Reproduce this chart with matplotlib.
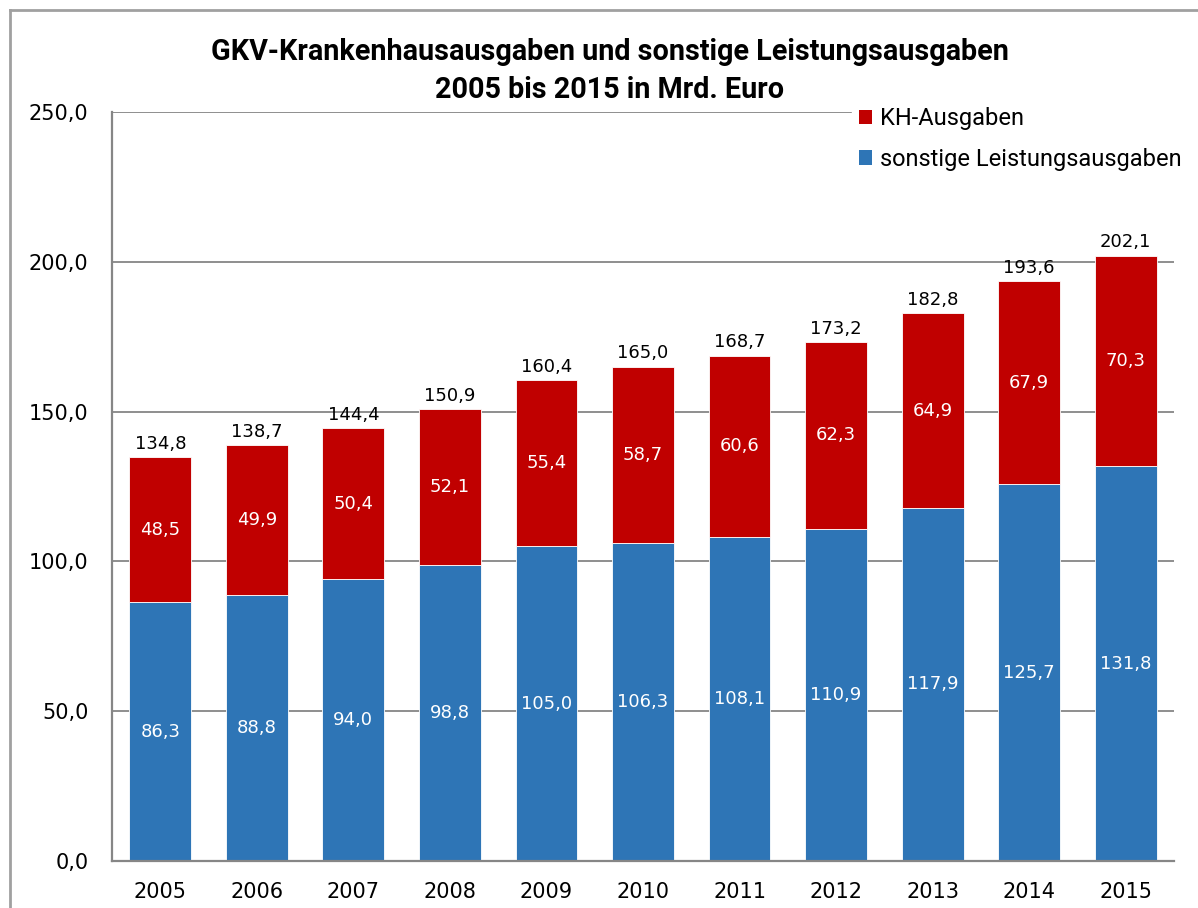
import matplotlib
matplotlib.use("Agg")
import matplotlib.pyplot as plt
from matplotlib.lines import Line2D
from matplotlib.patches import Patch
import numpy as np

years = ["2005", "2006", "2007", "2008", "2009", "2010", "2011", "2012", "2013", "2014", "2015"]
sonstige = [86.3, 88.8, 94.0, 98.8, 105.0, 106.3, 108.1, 110.9, 117.9, 125.7, 131.8]
kh = [48.5, 49.9, 50.4, 52.1, 55.4, 58.7, 60.6, 62.3, 64.9, 67.9, 70.3]
yticks = [0, 50, 100, 150, 200, 250]

title = "GKV-Krankenhausausgaben und sonstige Leistungsausgaben\n2005 bis 2015 in Mrd. Euro"
label_kh = "KH-Ausgaben"
label_so = "sonstige Leistungsausgaben"

BLUE = "#2E75B6"
RED = "#C00000"
GREY = "#868686"

def fmt(v):
    return f"{v:.1f}".replace(".", ",")

fig = plt.figure(figsize=(11.98, 9.08), dpi=100)
W, H = 1198, 908
ax = fig.add_axes([112 / W, 1 - 861 / H, (1174 - 112) / W, (861 - 112) / H])

x = np.arange(len(years))
totals = [a + b for a, b in zip(sonstige, kh)]
bw = 0.64
ax.bar(x, sonstige, width=bw, color=BLUE, edgecolor="white", linewidth=0.6, zorder=3)
ax.bar(x, kh, width=bw, bottom=sonstige, color=RED, edgecolor="white", linewidth=0.6, zorder=3)

for xi, s, k, t in zip(x, sonstige, kh, totals):
    ax.text(xi, s / 2, fmt(s), ha="center", va="center", color="white", fontsize=13, zorder=4)
    ax.text(xi, s + k / 2, fmt(k), ha="center", va="center", color="white", fontsize=13, zorder=4)
    ax.annotate(fmt(t), (xi, t), xytext=(0, 3), textcoords="offset points",
                ha="center", va="bottom", color="black", fontsize=13, zorder=4)

ax.set_xlim(-0.5, len(years) - 0.5)
ax.set_ylim(0, 250)
ax.set_yticks(yticks)
ax.set_yticklabels([fmt(v) for v in yticks], fontsize=15)
ax.set_xticks(x)
ax.set_xticklabels(years, fontsize=15)
ax.tick_params(axis="y", length=0, pad=17)
ax.tick_params(axis="x", length=0, pad=15)
ax.yaxis.grid(True, color=GREY, linewidth=1.3, zorder=0)
ax.set_axisbelow(True)
for s in ["top", "right"]:
    ax.spines[s].set_visible(False)
for s in ["left", "bottom"]:
    ax.spines[s].set_color(GREY)
    ax.spines[s].set_linewidth(1.6)
    ax.spines[s].set_zorder(5)

# Title
fig.text(610 / W, 1 - 71 / H, title, ha="center", va="center", fontsize=20.7,
         fontweight="bold", family="Roboto", linespacing=1.5)

# Legend
handles = [Patch(facecolor=RED, edgecolor="none"), Patch(facecolor=BLUE, edgecolor="none")]
leg = fig.legend(handles, [label_kh, label_so], loc="upper left",
                 bbox_to_anchor=(852 / W, 1 - 100 / H), frameon=True, fancybox=False,
                 edgecolor="white", facecolor="white", framealpha=1,
                 prop={"family": "Roboto", "size": 17},
                 handlelength=0.55, handleheight=0.55, handletextpad=0.35,
                 labelspacing=0.75, borderpad=0.3, borderaxespad=0)
leg.set_zorder(10)

# Outer border (left and top visible)
fig.add_artist(Line2D([10 / W, 10 / W], [0, 1 - 10 / H], color="#A0A0A0", linewidth=2, transform=fig.transFigure))
fig.add_artist(Line2D([10 / W, 1], [1 - 10 / H, 1 - 10 / H], color="#A0A0A0", linewidth=2, transform=fig.transFigure))

fig.savefig("out.png", dpi=100, facecolor="white")
